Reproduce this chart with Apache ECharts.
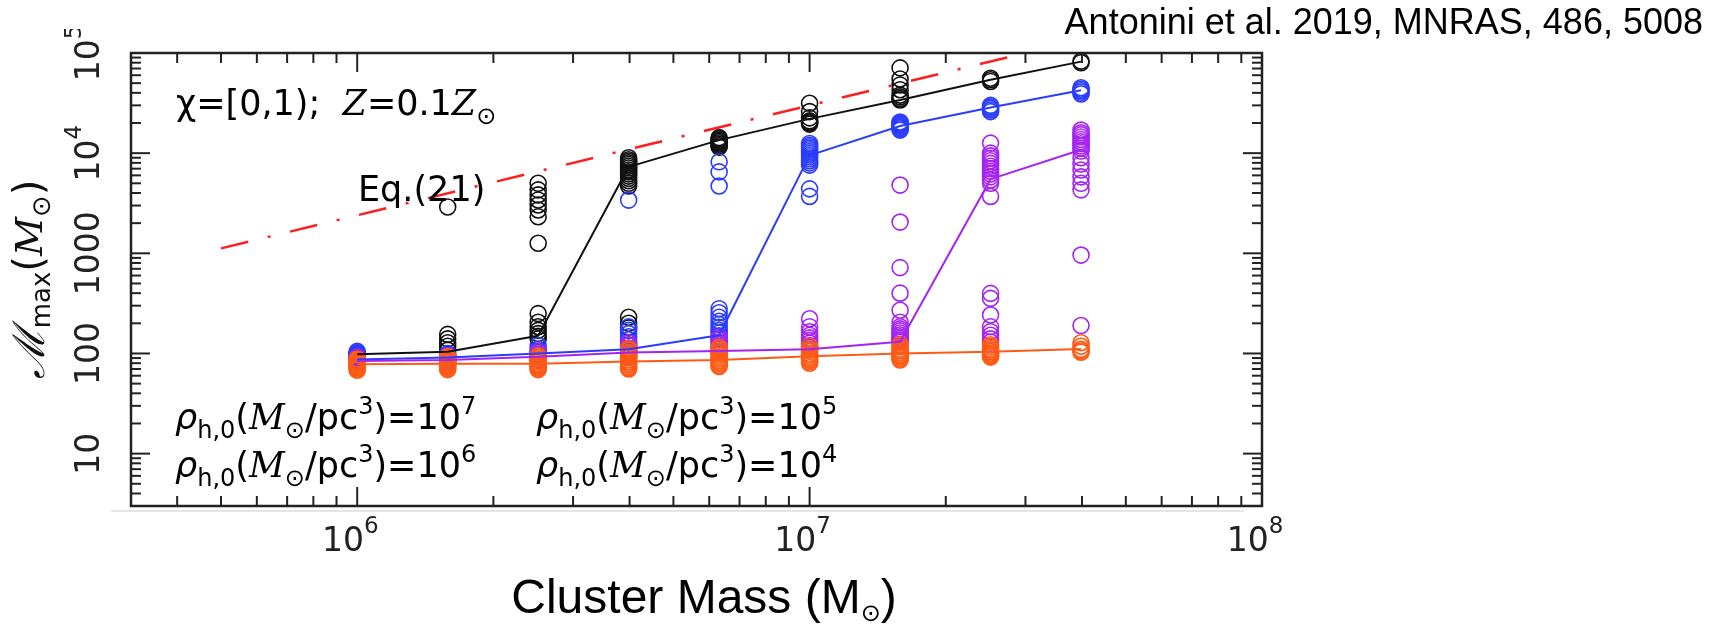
<!DOCTYPE html>
<html>
<head>
<meta charset="utf-8">
<script src="https://cdn.jsdelivr.net/npm/echarts@6/dist/echarts.min.js"></script>
<style>
  html, body { margin: 0; padding: 0; background: #ffffff; }
  #chart { width: 1718px; height: 633px; }
</style>
</head>
<body>
<div id="chart"></div>
<script>
// ---- axis ranges and tick positions -------------------------------------
const X_MIN = Math.pow(10, 5.5);
const X_MAX = 1e8;
const Y_MIN = 3;
const Y_MAX = 1e5;
const X_MAJOR = [1e6, 1e7, 1e8];
const Y_MAJOR = [10, 100, 1000, 1e4, 1e5];
const MINOR_STEPS = [2, 3, 4, 5, 6, 7, 8, 9];
const X_DECADES = [1e5, 1e6, 1e7];
const Y_DECADES = [1, 10, 100, 1000, 1e4];

// ---- cluster masses of the model grid (M_sun) ---------------------------
const MASS = [1.0e6, 1.585e6, 2.512e6, 3.981e6, 6.310e6, 1.0e7, 1.585e7, 2.512e7, 3.981e7];

// ---- typical maximum mass per cluster mass, one line per density --------
const LINE_RHO7 = [98, 104, 150, 7300, 13500, 22000, 34000, 54000, 82000];
const LINE_RHO6 = [87, 91, 100, 110, 152, 9500, 18700, 28600, 42400];
const LINE_RHO5 = [84, 86, 93, 102, 106, 110, 131, 5500, 10800];
const LINE_RHO4 = [78, 79, 79, 83, 86, 94, 100, 104, 111];

// ---- individual realisations, one list per cluster mass -----------------
const PTS_RHO7 = [
  [96, 100],
  [108, 118, 128, 140, 155, 2900],
  [140, 148, 158, 170, 185, 205, 250, 1260, 2320, 2710, 3040, 3410, 3830, 4300, 5000],
  [180, 200, 230, 4700, 5000, 5300, 5600, 5900, 6200, 6500, 6800, 7100, 7400, 7700, 8000, 8300, 8600, 9000],
  [11500, 11900, 12300, 12700, 13100, 13500, 13900, 14300],
  [19500, 20000, 20500, 21000, 22500, 26000, 31500],
  [34000, 35000, 36500, 38000, 43000, 48000, 55000, 71000],
  [52000, 54000, 56000],
  [80000, 83000]
];
const PTS_RHO6 = [
  [84, 87, 90, 93, 96, 99, 102, 105],
  [87, 90, 93, 96, 100],
  [98, 103, 110, 120],
  [105, 112, 120, 128, 137, 147, 158, 170, 185, 3400],
  [140, 150, 160, 170, 182, 195, 210, 230, 255, 280, 4700, 6500, 8200],
  [3700, 4400, 7600, 8000, 8400, 8800, 9200, 9600, 10000, 10400, 10800, 11200, 11600, 12000, 12500],
  [17000, 17500, 18000, 18500, 19000, 19500, 20000, 20500],
  [26000, 27000, 28000, 29000, 30000],
  [39000, 40500, 42000, 43500, 45000]
];
const PTS_RHO5 = [
  [80, 84, 88, 92],
  [82, 86, 90, 95],
  [86, 92, 98, 105],
  [92, 97, 102, 107, 113, 120, 128],
  [106, 112, 118, 124, 130, 137, 145],
  [110, 115, 120, 127, 135, 143, 152, 165, 185, 222],
  [131, 136, 141, 147, 153, 160, 168, 176, 185, 205, 270, 400, 720, 2050, 4800],
  [130, 140, 152, 165, 185, 242, 355, 398, 3700, 5000, 5400, 5800, 6200, 6600, 7000, 7400, 7900, 8400, 8900, 9400, 10000, 12600],
  [190, 960, 4300, 5000, 5800, 6800, 7800, 9000, 10500, 11200, 11800, 12400, 13000, 13700, 14500, 15300, 16000, 17000]
];
const PTS_RHO4 = [
  [68, 70, 72, 74, 76, 78, 80, 82, 84, 86, 88],
  [69, 71, 73, 75, 77, 79, 81, 84, 87, 90, 93],
  [69, 71, 73, 75, 77, 79, 82, 85, 88, 91, 95],
  [70, 72, 74, 77, 80, 83, 86, 90, 94, 98, 103, 108, 112],
  [74, 76, 79, 82, 85, 88, 92, 96, 100, 105, 110, 115],
  [80, 83, 86, 89, 92, 96, 100, 105, 110, 118],
  [86, 89, 92, 95, 98, 102, 106, 110, 116, 122],
  [92, 95, 98, 101, 104, 108, 112, 117, 122],
  [103, 106, 110, 118, 128]
];

// ---- Eq.(21) upper limit, end points ------------------------------------
const EQ21_X = [5.0e5, 3.0e7];
const EQ21_Y = [1120, 1.0e5];

// ---- colours -------------------------------------------------------------
const C_RHO7 = '#111111';
const C_RHO6 = '#2a3cff';
const C_RHO5 = '#a423f2';
const C_RHO4 = '#ff5a14';
const C_EQ = '#ff1e1e';
const C_AXIS = '#222222';

const SANS = "'DejaVu Sans', 'Liberation Sans', sans-serif";
const SERIF = "'DejaVu Serif', 'Liberation Serif', serif";
const ARIAL = "'Liberation Sans', Arial, sans-serif";

// minor tick values built from the decade list and the 2..9 multipliers
function minorTicks(decades, lo, hi) {
  const out = [];
  decades.forEach(d => MINOR_STEPS.forEach(m => {
    const v = d * m;
    if (v > lo * 1.0001 && v < hi * 0.9999) out.push(v);
  }));
  return out;
}
const X_MINOR = minorTicks(X_DECADES, X_MIN, X_MAX);
const Y_MINOR = minorTicks(Y_DECADES, Y_MIN, Y_MAX);

const tickData = [];
X_MAJOR.forEach(v => tickData.push([v, Y_MIN, 0, 1]));
X_MINOR.forEach(v => tickData.push([v, Y_MIN, 0, 0]));
Y_MAJOR.forEach(v => tickData.push([X_MIN, v, 1, 1]));
Y_MINOR.forEach(v => tickData.push([X_MIN, v, 1, 0]));

function pairs(lineVals) { return MASS.map((m, i) => [m, lineVals[i]]); }
function cloud(cols) {
  const out = [];
  cols.forEach((col, i) => col.forEach(v => out.push([MASS[i], v])));
  return out;
}

function groupSeries(name, color, lineVals, pts) {
  return [
    {
      name: name + ' line', type: 'line', data: pairs(lineVals),
      showSymbol: false, symbol: 'none',
      lineStyle: { color: color, width: 2 }, silent: true
    },
    {
      name: name, type: 'scatter', data: cloud(pts),
      symbol: 'circle', symbolSize: 16,
      itemStyle: { color: 'rgba(255,255,255,0)', borderColor: color, borderWidth: 1.6, opacity: 1 },
      silent: true
    }
  ];
}

function expLabel(v) {
  const e = Math.log10(v);
  const r = Math.round(e);
  if (Math.abs(e - r) > 1e-6) return '';
  return r;
}

const richTick = {
  n: { fontFamily: SANS, fontSize: 33, color: '#222', lineHeight: 52 },
  s: { fontFamily: SANS, fontSize: 23, color: '#222', verticalAlign: 'top', padding: [0, 0, 28, 0] },
  p: { width: 14 }
};

// rich styles shared by the in-plot annotations
function annRich(color) {
  return {
    t: { fontFamily: SANS, fontSize: 35, color: color },
    r: { fontFamily: SANS, fontSize: 35, fontStyle: 'italic', color: color },
    i: { fontFamily: SERIF, fontSize: 35, fontStyle: 'italic', color: color },
    sub: { fontFamily: SANS, fontSize: 24, color: color, verticalAlign: 'bottom', padding: [24, 0, 0, 0] },
    sup: { fontFamily: SANS, fontSize: 24, color: color, verticalAlign: 'top', padding: [0, 0, 24, 0] }
  };
}
function legendText(x, y, color, exp) {
  return {
    type: 'text', x: x, y: y, z: 50,
    style: {
      text: '{r|ρ}{sub|h,0}{t|(}{i|M}{sub|⊙}{t|/pc}{sup|3}{t|)=10}{sup|' + exp + '}',
      rich: annRich(color), align: 'left', verticalAlign: 'middle'
    }
  };
}

const chart = echarts.init(document.getElementById('chart'), null, { renderer: 'canvas' });

chart.setOption({
  animation: false,
  backgroundColor: '#ffffff',
  grid: {
    left: 131, right: 456, top: 53, bottom: 127,
    show: true, borderColor: C_AXIS, borderWidth: 2.5, backgroundColor: 'transparent'
  },
  xAxis: {
    type: 'log', logBase: 10, min: X_MIN, max: X_MAX,
    axisLine: { show: false }, axisTick: { show: false }, splitLine: { show: false },
    axisLabel: {
      margin: 10,
      formatter: v => { const r = expLabel(v); return r === '' ? '' : '{n|10}{s|' + r + '}{p|}'; },
      rich: richTick
    }
  },
  yAxis: {
    type: 'log', logBase: 10, min: Y_MIN, max: Y_MAX,
    axisLine: { show: false }, axisTick: { show: false }, splitLine: { show: false },
    axisLabel: {
      rotate: 90, margin: 15,
      formatter: v => {
        const r = expLabel(v);
        if (r === '') return '';
        return r <= 3 ? '{n|' + Math.pow(10, r) + '}' : '{n|10}{s|' + r + '}';
      },
      rich: richTick
    },
    name: '{m|ℳ}{sub|max}{p|(}{i|M}{sub|⊙}{p|)}',
    nameLocation: 'middle', nameRotate: 90, nameGap: 69,
    nameTextStyle: {
      rich: {
        m: { fontFamily: SERIF, fontSize: 44, fontStyle: 'italic', color: '#111' },
        sub: { fontFamily: SANS, fontSize: 26, color: '#111', verticalAlign: 'bottom', padding: [22, 0, 0, 0] },
        p: { fontFamily: SANS, fontSize: 40, color: '#111' },
        i: { fontFamily: SERIF, fontSize: 38, fontStyle: 'italic', color: '#111' }
      }
    }
  },
  series: [
    {
      type: 'custom', name: 'ticks', data: tickData, clip: false, silent: true, z: 5,
      encode: { x: 0, y: 1 },
      renderItem: (params, api) => {
        const cs = params.coordSys;
        const isY = api.value(2) === 1;
        const len = api.value(3) === 1 ? 19 : 10;
        const p = api.coord([api.value(0), api.value(1)]);
        const st = { stroke: C_AXIS, lineWidth: 2 };
        if (!isY) {
          const x = p[0], b = cs.y + cs.height, t = cs.y;
          return { type: 'group', children: [
            { type: 'line', shape: { x1: x, y1: b, x2: x, y2: b - len }, style: st },
            { type: 'line', shape: { x1: x, y1: t, x2: x, y2: t + len }, style: st }
          ] };
        }
        const y = p[1], l = cs.x, r = cs.x + cs.width;
        return { type: 'group', children: [
          { type: 'line', shape: { x1: l, y1: y, x2: l + len, y2: y }, style: st },
          { type: 'line', shape: { x1: r, y1: y, x2: r - len, y2: y }, style: st }
        ] };
      }
    },
    ...groupSeries('rho7', C_RHO7, LINE_RHO7, PTS_RHO7),
    ...groupSeries('rho6', C_RHO6, LINE_RHO6, PTS_RHO6),
    ...groupSeries('rho5', C_RHO5, LINE_RHO5, PTS_RHO5),
    ...groupSeries('rho4', C_RHO4, LINE_RHO4, PTS_RHO4),
    {
      name: 'Eq.(21)', type: 'line', data: EQ21_X.map((x, i) => [x, EQ21_Y[i]]),
      showSymbol: false, symbol: 'none', silent: true,
      lineStyle: { color: C_EQ, width: 2.5, type: [28, 20, 3, 20] }
    }
  ],
  graphic: [
    // faint rule beneath the lower frame
    { type: 'line', z: 1, shape: { x1: 111, y1: 511, x2: 1244, y2: 511 }, style: { stroke: '#dcdcdc', lineWidth: 1.5 } },
    // top margin trims the highest y label
    { type: 'rect', zlevel: 2, z: 100, shape: { x: 40, y: 0, width: 90, height: 29 }, style: { fill: '#ffffff' } },
    {
      type: 'text', x: 1703, y: 24, z: 50, zlevel: 3,
      style: { text: 'Antonini et al. 2019, MNRAS, 486, 5008', font: '36px ' + ARIAL, fill: '#000', align: 'right', verticalAlign: 'middle' }
    },
    {
      type: 'text', x: 176, y: 106, z: 50,
      style: { text: '{t|χ=[0,1);  }{i|Z}{t|=0.1}{i|Z}{sub|⊙}', rich: annRich('#1a1a1a'), align: 'left', verticalAlign: 'middle' }
    },
    {
      type: 'text', x: 358, y: 192, z: 50,
      style: { text: '{t|Eq.(21)}', rich: annRich('#1a1a1a'), align: 'left', verticalAlign: 'middle' }
    },
    legendText(175, 420, C_RHO7, 7),
    legendText(175, 468, C_RHO6, 6),
    legendText(536, 420, C_RHO5, 5),
    legendText(536, 468, C_RHO4, 4),
    {
      type: 'text', x: 704, y: 600, z: 50,
      style: {
        text: '{t|Cluster Mass (M}{sub|⊙}{t|)}',
        rich: {
          t: { fontFamily: ARIAL, fontSize: 48, color: '#000' },
          sub: { fontFamily: SANS, fontSize: 24, color: '#000', verticalAlign: 'bottom', padding: [30, 0, 0, 0] }
        },
        align: 'center', verticalAlign: 'middle'
      }
    }
  ]
});
</script>
</body>
</html>
